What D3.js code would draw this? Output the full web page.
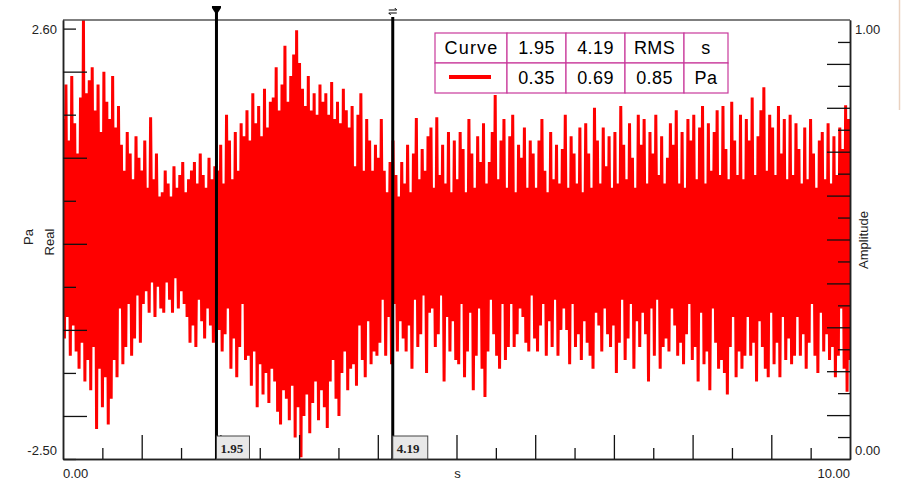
<!DOCTYPE html>
<html>
<head>
<meta charset="utf-8">
<script src="https://cdn.jsdelivr.net/npm/d3@7"></script>
<style>
  body { margin: 0; background: #fff; }
  svg { display: block; font-family: "Liberation Sans", Arial, sans-serif; }
</style>
</head>
<body>
<div id="chart"></div>
<script>
// time signal, 540 samples over 0..10 s (Pa), one row = 1/3 s
var signal = [
  1.45,-1.10,1.85,-0.85,1.20,-1.30,1.95,-0.95,1.40,-1.25,1.05,-1.45,1.70,-1.15,2.60,-1.60,1.75,-1.35,
  1.90,-1.70,2.05,-1.20,1.55,-2.15,1.85,-1.45,1.30,-1.90,2.00,-1.55,1.65,-2.10,1.45,-1.80,1.95,-1.35,
  1.35,-1.55,1.60,-0.75,1.15,-1.40,0.85,-1.20,1.30,-0.70,1.05,-1.30,0.75,-1.10,1.25,-0.60,1.00,-1.15,
  0.85,-0.70,1.20,-0.55,0.65,-0.80,1.47,-0.45,0.75,-0.85,1.05,-0.50,0.55,-0.75,0.60,-0.80,0.85,-0.45,
  0.70,-0.65,0.55,-0.80,0.90,-0.40,0.65,-0.75,0.80,-0.55,0.95,-0.70,0.60,-0.85,0.75,-1.15,0.85,-0.95,
  0.95,-1.20,0.70,-0.65,1.05,-0.90,0.80,-1.10,0.65,-0.75,1.00,-0.95,0.75,-1.15,0.90,-0.60,0.85,-1.00,
  1.15,-1.25,0.70,-1.05,1.50,-0.75,1.20,-1.45,0.75,-1.10,1.30,-1.55,0.85,-1.20,1.40,-0.70,1.25,-1.35,
  1.55,-1.30,1.20,-1.65,1.75,-1.25,1.40,-1.90,1.60,-1.40,1.25,-1.75,1.80,-1.50,1.35,-1.85,1.65,-1.45,
  1.70,-1.60,2.05,-1.95,1.55,-2.10,1.85,-1.70,2.30,-1.80,1.65,-2.05,1.95,-1.65,2.20,-2.25,2.48,-1.90,
  2.10,-2.48,1.80,-2.00,1.60,-1.75,1.95,-2.20,1.55,-1.85,1.75,-1.60,1.50,-2.05,1.85,-1.70,1.65,-1.90,
  1.75,-2.14,1.50,-1.60,1.88,-1.35,1.45,-1.80,1.65,-2.00,1.40,-1.50,1.80,-1.25,1.55,-1.70,1.35,-1.45,
  1.60,-1.40,0.90,-1.65,1.50,-0.95,1.75,-1.35,0.85,-1.55,1.45,-0.90,1.20,-1.40,0.85,-1.25,1.15,-1.30,
  1.00,-1.15,1.45,-0.65,0.85,-1.30,0.60,-0.85,0.95,-1.40,1.20,-0.70,0.80,-1.25,0.55,-0.90,0.95,-1.10,
  0.70,-1.25,1.15,-0.95,0.60,-1.45,1.05,-0.65,1.46,-1.20,0.75,-1.05,1.10,-0.60,0.85,-1.50,1.25,-0.80,
  1.35,-0.75,0.65,-1.20,1.47,-1.05,0.80,-0.60,1.15,-1.60,0.70,-0.85,1.30,-1.25,0.60,-0.90,1.20,-1.35,
  0.75,-1.40,1.30,-0.70,1.10,-1.55,0.60,-1.25,1.45,-0.80,1.05,-1.70,0.65,-1.30,1.25,-0.75,0.95,-1.45,
  1.40,-1.78,0.70,-1.25,0.95,-0.65,1.30,-1.05,1.73,-1.30,0.75,-1.45,1.20,-0.70,1.45,-1.35,0.65,-1.20,
  1.25,-0.70,1.50,-1.20,0.60,-1.05,1.15,-0.75,1.00,-0.85,1.35,-1.15,0.65,-1.25,1.20,-0.60,1.05,-1.10,
  0.65,-1.25,1.20,-0.95,1.45,-0.70,0.85,-1.30,0.60,-0.90,1.30,-1.20,0.75,-0.65,1.15,-1.30,0.70,-1.00,
  1.10,-0.75,1.50,-1.00,0.65,-1.40,1.25,-0.70,1.05,-1.20,0.70,-1.05,1.35,-1.35,0.60,-0.90,1.40,-1.15,
  1.05,-1.30,0.65,-1.45,1.58,-0.80,1.20,-0.95,0.70,-1.25,1.35,-0.75,0.90,-1.05,1.25,-1.20,0.65,-0.95,
  1.30,-1.50,0.70,-1.15,1.60,-0.65,1.15,-1.35,0.75,-1.10,1.40,-0.70,1.00,-1.45,0.65,-0.90,1.50,-1.20,
  1.15,-0.80,1.45,-1.05,0.70,-1.60,1.30,-0.75,1.05,-1.30,1.50,-0.65,0.80,-1.45,1.25,-1.20,0.70,-1.10,
  1.00,-1.25,1.40,-0.75,1.15,-0.95,1.55,-1.30,0.70,-1.15,1.30,-1.40,0.65,-1.05,1.45,-0.70,1.20,-1.35,
  1.50,-1.20,0.75,-1.60,1.35,-0.80,1.60,-1.40,0.70,-1.25,1.40,-1.70,0.85,-0.75,1.30,-1.15,1.55,-1.45,
  0.80,-1.35,1.60,-1.50,1.10,-1.75,0.75,-1.20,1.65,-0.85,1.20,-1.55,0.80,-1.25,1.50,-1.45,0.75,-1.30,
  1.45,-0.85,1.20,-1.30,1.70,-1.15,0.80,-1.60,1.25,-0.90,1.55,-1.20,1.82,-1.45,0.85,-1.55,1.50,-0.80,
  1.35,-1.40,0.80,-1.15,1.60,-1.55,1.05,-0.85,1.45,-1.35,0.75,-1.10,1.50,-1.40,0.80,-1.30,1.40,-0.85,
  1.10,-1.30,0.70,-1.05,1.35,-1.45,0.75,-1.15,1.45,-0.70,1.05,-1.30,0.65,-1.50,1.20,-0.80,1.30,-1.25,
  0.75,-1.05,1.40,-1.35,0.70,-1.20,1.25,-1.55,0.80,-1.30,1.35,-0.75,1.10,-1.45,1.61,-1.72,1.45,-1.35
];

var cursors = [1.95, 4.19];
var tableHead = ["Curve", "1.95", "4.19", "RMS", "s"];
var tableRow = ["", "0.35", "0.69", "0.85", "Pa"];
var leftLabels = ["2.60", "-2.50"];
var rightLabels = ["1.00", "0.00"];
var bottomLabels = ["0.00", "10.00"];

var width = 905, height = 480;
var margin = {top: 20, right: 55, bottom: 21, left: 63};

var svg = d3.select("#chart").append("svg")
    .attr("width", width)
    .attr("height", height);

// faint frame of the window
var grad = svg.append("defs").append("linearGradient").attr("id", "frame");
grad.append("stop").attr("offset", "0%").attr("stop-color", "#f4ebe4");
grad.append("stop").attr("offset", "45%").attr("stop-color", "#dba582");
grad.append("stop").attr("offset", "100%").attr("stop-color", "#eed6c4");
svg.append("line").attr("x1", 0).attr("x2", width).attr("y1", 0.5).attr("y2", 0.5)
  .attr("stroke", "url(#frame)").attr("stroke-width", 2);
svg.append("line").attr("x1", 899.5).attr("x2", 899.5).attr("y1", 0).attr("y2", 110)
  .attr("stroke", "#ead2c0").attr("stroke-width", 1.5);

var x = d3.scaleLinear().domain([0, 10]).range([margin.left, width - margin.right]);
var y = d3.scaleLinear().domain([-2.5, 2.6]).range([height - margin.bottom, margin.top]);
var yAmp = d3.scaleLinear().domain([0, 1]).range([height - margin.bottom, margin.top]);

var dt = 10 / (signal.length - 1);

svg.append("clipPath").attr("id", "plot")
  .append("rect")
    .attr("x", x(0)).attr("y", y(2.6))
    .attr("width", x(10) - x(0)).attr("height", y(-2.5) - y(2.6));

// signal
var line = d3.line()
  .x(function(d, i) { return x(i * dt); })
  .y(function(d) { return y(d); });

svg.append("path")
  .datum(signal)
  .attr("clip-path", "url(#plot)")
  .attr("fill", "none")
  .attr("stroke", "#ff0000")
  .attr("stroke-width", 3)
  .attr("stroke-linejoin", "bevel")
  .attr("d", line);

// top border
svg.append("line")
  .attr("x1", x(0)).attr("x2", x(10))
  .attr("y1", y(2.6)).attr("y2", y(2.6))
  .attr("stroke", "#555").attr("stroke-width", 1.5);

// ticks point inward
function ticksAxis(axis, vals, size) {
  return axis.tickValues(vals).tickSize(size).tickSizeOuter(0).tickFormat("");
}
var lMinor = [-2.5, -1.5, -0.5, 0.5, 1.5, 2.5];
var lMajor = [-2, -1, 0, 1, 2];
svg.append("g").attr("transform", "translate(" + x(0) + ",0)")
  .call(ticksAxis(d3.axisRight(y), lMinor, 13));
svg.append("g").attr("transform", "translate(" + x(0) + ",0)")
  .call(ticksAxis(d3.axisRight(y), lMajor, 24));

var rMinor = d3.range(0.05, 1, 0.1);
var rMajor = d3.range(0.1, 0.95, 0.1);
svg.append("g").attr("transform", "translate(" + x(10) + ",0)")
  .call(ticksAxis(d3.axisLeft(yAmp), rMinor, 12));
svg.append("g").attr("transform", "translate(" + x(10) + ",0)")
  .call(ticksAxis(d3.axisLeft(yAmp), rMajor, 23));

var bMinor = d3.range(0.5, 10, 1);
var bMajor = d3.range(1, 10, 1);
svg.append("g").attr("transform", "translate(0," + y(-2.5) + ")")
  .call(ticksAxis(d3.axisTop(x), bMinor, 11));
svg.append("g").attr("transform", "translate(0," + y(-2.5) + ")")
  .call(ticksAxis(d3.axisTop(x), bMajor, 24));

svg.selectAll(".domain").attr("stroke", "#222").attr("stroke-width", 1.5);
svg.selectAll(".tick line").attr("stroke", "#111").attr("stroke-width", 1.3);

// axis end labels
var lab = svg.append("g").attr("font-size", 13).attr("fill", "#222");
lab.append("text").attr("x", x(0) - 6).attr("y", y(2.6) + 14).attr("text-anchor", "end").text(leftLabels[0]);
lab.append("text").attr("x", x(0) - 6).attr("y", y(-2.5) - 4).attr("text-anchor", "end").text(leftLabels[1]);
lab.append("text").attr("x", x(10) + 5).attr("y", y(2.6) + 14).text(rightLabels[0]);
lab.append("text").attr("x", x(10) + 5).attr("y", y(-2.5) - 4).text(rightLabels[1]);
lab.append("text").attr("x", x(0)).attr("y", 478).text(bottomLabels[0]);
lab.append("text").attr("x", x(10)).attr("y", 478).attr("text-anchor", "end").text(bottomLabels[1]);
lab.append("text").attr("x", (x(0) + x(10)) / 2 + 1).attr("y", 478).attr("text-anchor", "middle").text("s");

lab.append("text").attr("transform", "translate(33,237)rotate(-90)").attr("text-anchor", "middle").text("Pa");
lab.append("text").attr("transform", "translate(54,242)rotate(-90)").attr("text-anchor", "middle").text("Real");
lab.append("text").attr("transform", "translate(868,240)rotate(-90)").attr("text-anchor", "middle").text("Amplitude");

// cursors
cursors.forEach(function(c, i) {
  var cx = x(c);
  svg.append("line")
    .attr("x1", cx).attr("x2", cx)
    .attr("y1", i === 0 ? 8 : 17).attr("y2", y(-2.5))
    .attr("stroke", "#000").attr("stroke-width", 3);
  if (i === 0) {
    svg.append("path")
      .attr("d", "M" + (cx - 4.5) + ",6 h9 v2 l-4.5,7 l-4.5,-7 z")
      .attr("fill", "#000");
  } else {
    svg.append("path")
      .attr("d", "M" + (cx - 4) + ",10 h8 l-2,-2 M" + (cx + 4) + ",13 h-8 l2,2")
      .attr("fill", "none").attr("stroke", "#000").attr("stroke-width", 1);
  }
  var g = svg.append("g").attr("transform", "translate(" + cx + "," + (y(-2.5) - 23) + ")");
  g.append("rect").attr("width", i === 0 ? 33 : 35).attr("height", 23)
    .attr("fill", "#e8e8e8").attr("stroke", "#444").attr("stroke-width", 1);
  g.append("text").attr("x", 4).attr("y", 17)
    .attr("font-family", "'Liberation Serif', 'Times New Roman', serif")
    .attr("font-weight", "bold").attr("font-size", 13).attr("fill", "#222")
    .text(c.toFixed(2));
});

// result table
var colW = [72, 59, 59, 59, 44];
var tx0 = 435, ty0 = 33, rowH = 30;
var table = svg.append("g").attr("font-size", 18).attr("fill", "#000");
var cx0 = tx0;
colW.forEach(function(w, j) {
  [tableHead, tableRow].forEach(function(row, r) {
    table.append("rect")
      .attr("x", cx0).attr("y", ty0 + r * rowH)
      .attr("width", w).attr("height", rowH)
      .attr("fill", "#fff").attr("stroke", "#c8399b").attr("stroke-width", 1.2);
    if (row[j]) {
      table.append("text")
        .attr("x", cx0 + w / 2 + (j === 0 ? 0.5 : 0)).attr("y", ty0 + r * rowH + 21)
        .attr("text-anchor", "middle")
        .attr("letter-spacing", j === 0 ? 1.2 : 0.4)
        .text(row[j]);
    }
  });
  cx0 += w;
});
table.append("line")
  .attr("x1", 449).attr("x2", 491).attr("y1", 77).attr("y2", 77)
  .attr("stroke", "#ff0000").attr("stroke-width", 4);
</script>
</body>
</html>
